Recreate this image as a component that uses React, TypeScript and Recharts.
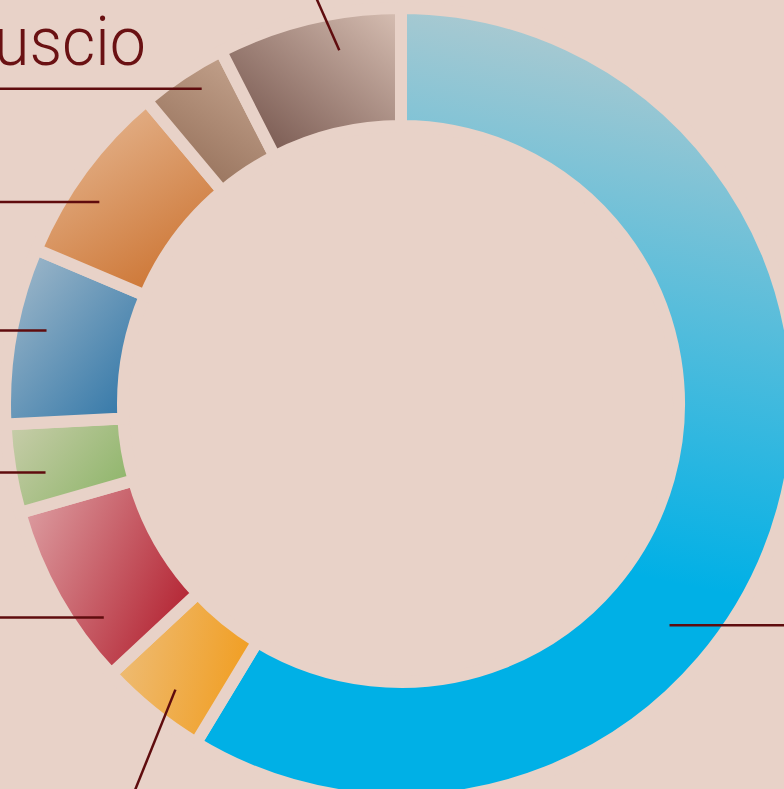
import React from 'react';
import { PieChart, Pie, Cell } from 'recharts';

// slice names (the labels sit outside the visible crop)
const categories = [
  'Categoria 1',
  'Categoria 2',
  'Categoria 3',
  'Categoria 4',
  'Categoria 5',
  'Categoria 6',
  'Categoria 7',
  'Categoria 8',
];
// share of each slice, %
const shares = [58.6, 4.4, 7.5, 3.6, 7.2, 7.5, 3.6, 7.5];

const BG = '#e8d2c8';
const INK = '#5f0c0e';

// gradient per slice: [light, dark, x1, y1, x2, y2]
const gradients: [string, string, number, number, number, number][] = [
  ['#a8c9d1', '#00b0e6', 0.4, 0, 0.3, 0.65],
  ['#eebd78', '#f19c1c', 0, 0.4, 1, 0.6],
  ['#dc9ca0', '#b21f2e', 0, 0.2, 1, 0.7],
  ['#c6cca8', '#8bb466', 0, 0.2, 1, 0.8],
  ['#a8bdcc', '#2871a5', 0, 0, 1, 1],
  ['#e6b995', '#cb702c', 0.2, 0, 0.8, 1],
  ['#c7a690', '#906b55', 0.8, 0, 0.2, 1],
  ['#d8c0b4', '#6b4a42', 1, 0, 0, 1],
];

// leader lines: anchor angle (deg), anchor radius, direction (deg), length
const leaders: [number, number, number, number][] = [
  [-39.5, 348, 0, 200],
  [231.7, 364, 248.1, 200],
  [215.7, 366, 180, 200],
  [190.9, 362, 180, 200],
  [168.3, 362, 180, 200],
  [146.2, 363, 180, 200],
  [122.3, 373, 180, 260],
  [99.9, 359, 113.75, 200],
];

const data = categories.map((name, i) => ({ name, value: shares[i] }));

const RAD = Math.PI / 180;

const renderLeader = (props: any) => {
  const { cx, cy, index } = props;
  const [a, r, dir, len] = leaders[index];
  const x1 = cx + r * Math.cos(a * RAD);
  const y1 = cy - r * Math.sin(a * RAD);
  const x2 = x1 + len * Math.cos(dir * RAD);
  const y2 = y1 - len * Math.sin(dir * RAD);
  return <line x1={x1} y1={y1} x2={x2} y2={y2} stroke={INK} strokeWidth={2.5} />;
};

export default function App() {
  return (
    <div
      style={{
        position: 'fixed',
        left: 0,
        top: 0,
        width: 784,
        height: 789,
        background: BG,
        overflow: 'hidden',
      }}
    >
      <PieChart width={784} height={789} margin={{ top: 0, right: 0, bottom: 0, left: 0 }}>
        <defs>
          {gradients.map(([c1, c2, x1, y1, x2, y2], i) => (
            <linearGradient key={i} id={`g${i}`} x1={x1} y1={y1} x2={x2} y2={y2}>
              <stop offset="0%" stopColor={c1} />
              <stop offset="100%" stopColor={c2} />
            </linearGradient>
          ))}
        </defs>
        <Pie
          data={data}
          dataKey="value"
          nameKey="name"
          cx={401}
          cy={404}
          innerRadius={278}
          outerRadius={396}
          startAngle={90}
          endAngle={-270}
          paddingAngle={0}
          stroke={BG}
          strokeWidth={12}
          label={renderLeader}
          labelLine={false}
          isAnimationActive={false}
        >
          {data.map((d, i) => (
            <Cell key={d.name} fill={`url(#g${i})`} stroke={BG} strokeWidth={12} />
          ))}
        </Pie>
      </PieChart>
      <svg
        width={784}
        height={789}
        style={{ position: 'absolute', left: 0, top: 0, pointerEvents: 'none' }}
      >
        <text
          x={-6}
          y={65}
          textLength={152}
          lengthAdjust="spacingAndGlyphs"
          fill="#6a1113"
          fontFamily="Roboto"
          fontWeight={300}
          fontSize={68}
        >
          uscio
        </text>
      </svg>
    </div>
  );
}
